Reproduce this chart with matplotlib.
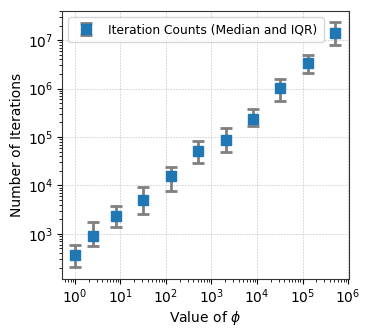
import matplotlib
matplotlib.use("Agg")
import matplotlib.pyplot as plt
import matplotlib.ticker as mticker
import numpy as np

phi = [1, 2.5, 8, 32, 128, 512, 2048, 8192, 32768, 131072, 524288]
median = [373, 920, 2300, 5000, 15800, 52000, 87000, 240000, 1.05e6, 3.45e6, 1.38e7]
q1 = [210, 555, 1370, 2600, 7500, 29000, 50000, 170000, 550000, 2.1e6, 8.1e6]
q3 = [600, 1790, 3850, 9300, 24500, 81000, 154000, 375000, 1.55e6, 4.9e6, 2.35e7]
xticks = [1e0, 1e1, 1e2, 1e3, 1e4, 1e5, 1e6]
yticks = [1e3, 1e4, 1e5, 1e6, 1e7]

med = np.array(median)
yerr = [med - np.array(q1), np.array(q3) - med]

fig = plt.figure(figsize=(3.73, 3.36), dpi=100)
ax = fig.add_axes([62/373, 1-279/336, (349-62)/373, (279-11)/336])
ax.errorbar(phi, med, yerr=yerr, fmt='s', color='#1f77b4', ecolor='gray',
            elinewidth=2, capsize=4, capthick=2, markersize=7,
            label='Iteration Counts (Median and IQR)')
ax.set_xscale('log')
ax.set_yscale('log')
ax.set_xlim(0.52, 1.05e6)
ax.set_ylim(117, 4e7)
ax.set_xticks(xticks)
ax.set_yticks(yticks)
for axis in (ax.xaxis, ax.yaxis):
    axis.set_minor_locator(mticker.LogLocator(base=10, subs=np.arange(2, 10), numticks=20))
    axis.set_minor_formatter(mticker.NullFormatter())
ax.set_xlim(0.52, 1.05e6)
ax.set_ylim(117, 4e7)
ax.grid(True, which='major', linestyle='--', dashes=(2, 1.5), color='#cccccc', linewidth=0.6)
ax.set_xlabel(r'Value of $\phi$', fontsize=10, labelpad=2)
ax.set_ylabel('Number of Iterations', fontsize=10, labelpad=3)
ax.tick_params(labelsize=10, pad=2.5)
for s in ax.spines.values():
    s.set_color('#333333')
ax.legend(loc='upper left', fontsize=8.8, borderpad=0.5)
fig.savefig('out.png', dpi=100)
